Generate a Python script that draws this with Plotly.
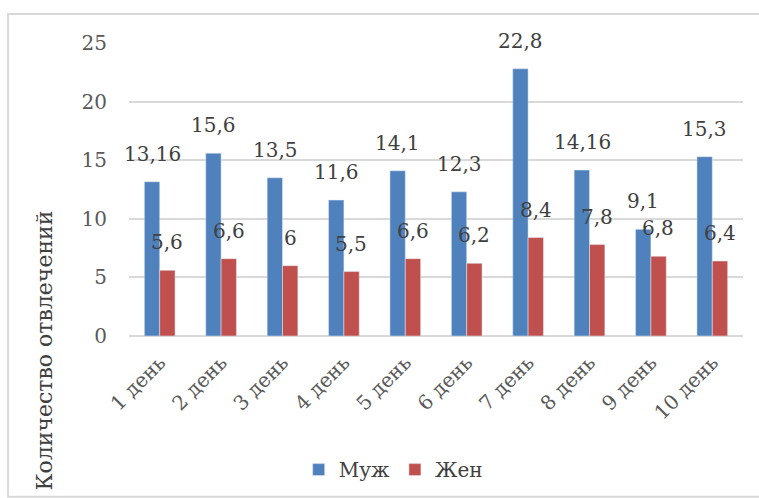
import plotly.graph_objects as go

days = ["1 день", "2 день", "3 день", "4 день", "5 день",
        "6 день", "7 день", "8 день", "9 день", "10 день"]
male = [13.16, 15.6, 13.5, 11.6, 14.1, 12.3, 22.8, 14.16, 9.1, 15.3]
female = [5.6, 6.6, 6, 5.5, 6.6, 6.2, 8.4, 7.8, 6.8, 6.4]


def fmt(v):
    return f"{v:g}".replace(".", ",")


FONT = "DejaVu Serif"
TXT = "#404040"

fig = go.Figure()
fig.add_trace(go.Bar(x=days, y=male, name="Муж", marker_color="#4F81BD"))
fig.add_trace(go.Bar(x=days, y=female, name="Жен", marker_color="#C0504D"))

# data labels above bars (Excel style, with a gap)
notes = []
for d, m, f in zip(days, male, female):
    notes.append(dict(x=d, y=m, text=fmt(m), xshift=-7.5, yshift=14,
                      yanchor="bottom", showarrow=False))
    notes.append(dict(x=d, y=f, text=fmt(f), xshift=7.5, yshift=14,
                      yanchor="bottom", showarrow=False))
notes.append(dict(text="Количество отвлечений", textangle=-90,
                  xref="paper", yref="paper", x=-0.137, y=-0.05,
                  xanchor="center", yanchor="middle", showarrow=False,
                  font=dict(size=22)))

fig.update_layout(
    width=759, height=498,
    margin=dict(l=129, r=16, t=43, b=162),
    plot_bgcolor="white", paper_bgcolor="white",
    barmode="group", bargap=0.5, bargroupgap=0,
    font=dict(family=FONT, size=20, color=TXT),
    showlegend=True,
    legend=dict(orientation="h", xref="container", yref="container",
                x=0.518, xanchor="center", y=0.057, yanchor="middle",
                font=dict(family=FONT, size=20, color=TXT), itemwidth=30,
                traceorder="normal"),
    shapes=[dict(type="rect", xref="paper", yref="paper",
                 x0=-0.197, x1=1.03, y0=-0.549, y1=1.099,
                 line=dict(color="#D9D9D9", width=2))],
    annotations=notes,
)
fig.update_yaxes(range=[0, 25], dtick=5, showgrid=True, gridcolor="#D9D9D9",
                 gridwidth=2, zeroline=True, zerolinecolor="#D9D9D9", zerolinewidth=2,
                 showline=False, ticks="", tickfont=dict(color="#595959"),
                 ticklabelstandoff=21, automargin=False)
fig.update_xaxes(range=[-0.5, len(days) - 0.5], tickangle=-45, showline=False,
                 ticks="", tickfont=dict(color="#595959"), ticklabelstandoff=10,
                 automargin=False)

fig.write_html("out.html", config={"displayModeBar": False},
               post_script="document.body.style.margin='0';")
